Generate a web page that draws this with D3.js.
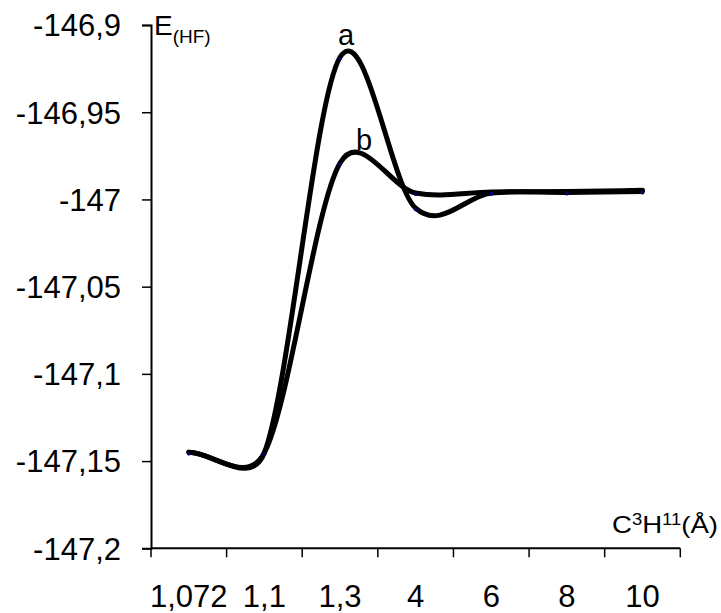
<!DOCTYPE html>
<html>
<head>
<meta charset="utf-8">
<script src="https://cdn.jsdelivr.net/npm/d3@7"></script>
<style>
  body { margin: 0; background: #fff; }
  svg text { font-family: "Liberation Sans", Arial, sans-serif; fill: #000; }
</style>
</head>
<body>
<div id="chart"></div>
<script>
// category axis (interatomic distance C3-H11, Å)
const categories = ["1,072", "1,1", "1,3", "4", "6", "8", "10"];
// E(HF) values
const seriesA = [-147.145, -147.1452, -146.9185, -147.005, -146.9963, -146.996, -146.9954];
const seriesB = [-147.145, -147.1452, -146.9791, -146.9963, -146.9957, -146.9954, -146.9948];
const yTicks = [-146.9, -146.95, -147, -147.05, -147.1, -147.15, -147.2];

const W = 721, H = 613;
const plot = { left: 151, right: 680.3, top: 25, bottom: 548.3 };

const locale = d3.formatLocale({ decimal: ",", thousands: ".", grouping: [3], currency: ["", ""], minus: "-" });
const fmt = locale.format("~g");

// spreadsheet-style smoothing: bezier with 1/6 tangents, clamped to half the segment
function curveSmooth(context) {
  let pts;
  const dist = (p, q) => Math.hypot(q[0] - p[0], q[1] - p[1]);
  return {
    areaStart() {}, areaEnd() {},
    lineStart() { pts = []; },
    point(x, y) { pts.push([+x, +y]); },
    lineEnd() {
      const n = pts.length;
      if (!n) return;
      context.moveTo(pts[0][0], pts[0][1]);
      for (let i = 0; i < n - 1; i++) {
        const p0 = pts[Math.max(i - 1, 0)], p1 = pts[i], p2 = pts[i + 1], p3 = pts[Math.min(i + 2, n - 1)];
        const d12 = dist(p1, p2), d02 = dist(p0, p2), d13 = dist(p1, p3);
        let f = i === 0 ? 1 / 3 : 1 / 6;
        let g = i + 2 > n - 1 ? 1 / 3 : 1 / 6;
        if (d02 * f > d12 / 2) f = d12 / (2 * d02);
        if (d13 * g > d12 / 2) g = d12 / (2 * d13);
        context.bezierCurveTo(
          p1[0] + f * (p2[0] - p0[0]), p1[1] + f * (p2[1] - p0[1]),
          p2[0] - g * (p3[0] - p1[0]), p2[1] - g * (p3[1] - p1[1]),
          p2[0], p2[1]);
      }
    }
  };
}

const svg = d3.select("#chart").append("svg")
  .attr("width", W)
  .attr("height", H);

const x = d3.scaleBand()
  .domain(categories)
  .range([plot.left, plot.right])
  .paddingInner(0)
  .paddingOuter(0);

const y = d3.scaleLinear()
  .domain([-147.2, -146.9])
  .range([plot.bottom, plot.top]);

const cx = c => x(c) + x.bandwidth() / 2;

// y axis
const yAxis = svg.append("g")
  .attr("transform", `translate(${plot.left},0)`)
  .call(d3.axisLeft(y).tickValues(yTicks).tickSize(9).tickPadding(21).tickFormat(fmt));
yAxis.select(".domain").attr("stroke", "#000").attr("stroke-width", 2);
yAxis.selectAll(".tick line").attr("stroke", "#000").attr("stroke-width", 1.5);
yAxis.selectAll(".tick text")
  .attr("font-size", 31)
  .attr("font-family", "Liberation Sans, Arial, sans-serif")
  .attr("dy", "0.35em");

// x axis line + ticks on category boundaries
svg.append("line")
  .attr("x1", plot.left).attr("x2", plot.right)
  .attr("y1", plot.bottom).attr("y2", plot.bottom)
  .attr("stroke", "#000").attr("stroke-width", 2);

const bounds = categories.map(c => x(c)).concat([x(categories[categories.length - 1]) + x.bandwidth()]);
svg.append("g").selectAll("line")
  .data(bounds)
  .join("line")
  .attr("x1", d => d).attr("x2", d => d)
  .attr("y1", plot.bottom).attr("y2", plot.bottom + 9)
  .attr("stroke", "#000").attr("stroke-width", 1.5);

svg.append("g").selectAll("text")
  .data(categories)
  .join("text")
  .attr("x", d => cx(d))
  .attr("y", 607)
  .attr("text-anchor", "middle")
  .attr("font-size", 31)
  .text(d => d);

// axis titles
const eTitle = svg.append("text").attr("x", 154).attr("y", 35).attr("font-size", 28);
eTitle.append("tspan").text("E");
eTitle.append("tspan").attr("font-size", 19).attr("dy", 8).text("(HF)");

const xTitle = svg.append("text").attr("x", 612).attr("y", 533).attr("font-size", 24)
  .attr("textLength", 106).attr("lengthAdjust", "spacingAndGlyphs");
xTitle.append("tspan").text("C");
xTitle.append("tspan").attr("font-size", 16).attr("dy", -8).text("3");
xTitle.append("tspan").attr("dy", 8).text("H");
xTitle.append("tspan").attr("font-size", 16).attr("dy", -8).text("11");
xTitle.append("tspan").attr("dy", 8).text("(Å)");

// smoothed curves
const line = d3.line()
  .x((d, i) => cx(categories[i]))
  .y(d => y(d))
  .curve(curveSmooth);

[seriesB, seriesA].forEach(s => {
  svg.append("path")
    .datum(s)
    .attr("d", line)
    .attr("fill", "none")
    .attr("stroke", "#000")
    .attr("stroke-width", 5)
    .attr("stroke-linecap", "round");
});

// tiny navy markers at data points
[seriesA, seriesB].forEach(s => {
  svg.append("g").selectAll("circle")
    .data(s)
    .join("circle")
    .attr("cx", (d, i) => cx(categories[i]))
    .attr("cy", d => y(d) + 1.5)
    .attr("r", 1.6)
    .attr("fill", "#000080");
});

// series labels
svg.append("text")
  .attr("x", cx(categories[2]) + 6)
  .attr("y", y(seriesA[2]) - 12)
  .attr("text-anchor", "middle")
  .attr("font-size", 29)
  .text("a");

svg.append("text")
  .attr("x", cx(categories[2]) + 24)
  .attr("y", y(seriesB[2]) - 13)
  .attr("text-anchor", "middle")
  .attr("font-size", 29)
  .text("b");
</script>
</body>
</html>
